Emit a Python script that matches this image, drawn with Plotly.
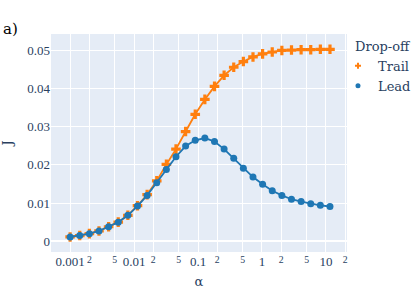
import plotly.graph_objects as go

alpha = [0.001 * 2 ** (k / 2) for k in range(28)]

trail = [0.00113, 0.0015, 0.0020, 0.0027, 0.0038, 0.0050, 0.0068, 0.0093, 0.0122,
         0.0158, 0.0201, 0.0241, 0.0287, 0.0332, 0.0371, 0.0405, 0.0434, 0.0455,
         0.0470, 0.0482, 0.0490, 0.0495, 0.0499, 0.0500, 0.0501, 0.0501, 0.0502, 0.0502]

lead = [0.00113, 0.0015, 0.0020, 0.0027, 0.0038, 0.0050, 0.0068, 0.0092, 0.0120,
        0.0153, 0.0188, 0.0221, 0.0249, 0.0264, 0.0270, 0.0261, 0.0241, 0.0217,
        0.0191, 0.0168, 0.0149, 0.0132, 0.0120, 0.0110, 0.0104, 0.0098, 0.0094, 0.0091]

TICK_FONT = "Liberation Serif"
TEXT_FONT = "DejaVu Serif"
ORANGE = "#ff7f0e"
BLUE = "#1f77b4"

fig = go.Figure()
fig.add_trace(go.Scatter(x=alpha, y=trail, mode="lines+markers", name="Trail",
                         showlegend=False,
                         marker=dict(symbol="cross", color=ORANGE, size=8),
                         line=dict(color=ORANGE, width=1.8)))
fig.add_trace(go.Scatter(x=alpha, y=lead, mode="lines+markers", name="Lead",
                         showlegend=False,
                         marker=dict(symbol="circle", color=BLUE, size=7),
                         line=dict(color=BLUE, width=1.8)))
# legend-only entries (markers only, as in the reference legend)
fig.add_trace(go.Scatter(x=[None], y=[None], mode="markers", name="Trail",
                         marker=dict(symbol="cross", color=ORANGE, size=5)))
fig.add_trace(go.Scatter(x=[None], y=[None], mode="markers", name="Lead",
                         marker=dict(symbol="circle", color=BLUE, size=5)))

fig.update_layout(
    template="plotly",
    width=415, height=295,
    margin=dict(l=51, r=68, t=34, b=43),
    font=dict(family=TICK_FONT, size=13, color="#2a3f5f"),
    legend=dict(title=dict(text="Drop-off", font=dict(family=TEXT_FONT, size=13)),
                font=dict(family=TEXT_FONT, size=13), indentation=-15,
                itemsizing="trace", tracegroupgap=0,
                xref="container", x=0.8506, xanchor="left",
                y=1.0, yanchor="top"),
    xaxis=dict(type="log", dtick="D2", range=[-3.299, 1.33], automargin=False,
               title=dict(text="α", standoff=8,
                          font=dict(family=TEXT_FONT, size=13))),
    yaxis=dict(range=[-0.0028, 0.0542],
               title=dict(text="J", standoff=26,
                          font=dict(family=TEXT_FONT, size=13)),
               dtick=0.01, tickformat="~g", automargin=False),
    annotations=[dict(text="a)", x=-0.17, y=1.0, xref="paper", yref="paper",
                      xanchor="left", yanchor="bottom", yshift=-6,
                      showarrow=False,
                      font=dict(family=TEXT_FONT, size=15, color="black"))],
)

fig.write_html("out.html", config={"displayModeBar": False},
               post_script="document.body.style.margin='0';")
